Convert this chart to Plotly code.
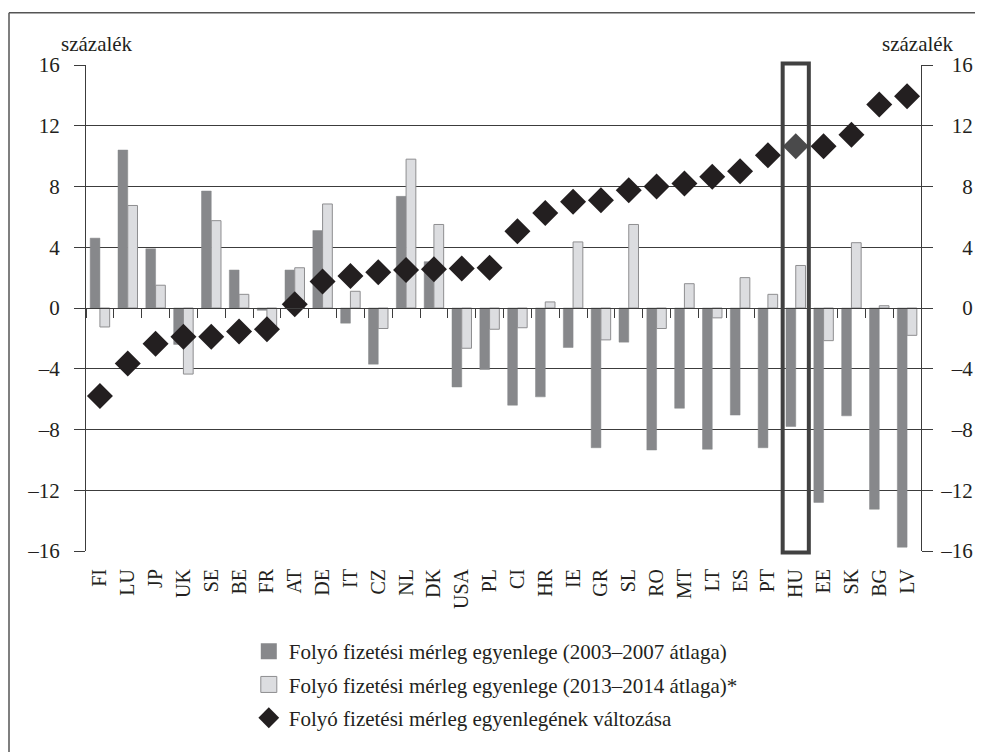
import plotly.graph_objects as go

countries = ["FI", "LU", "JP", "UK", "SE", "BE", "FR", "AT", "DE", "IT", "CZ", "NL", "DK", "USA", "PL",
             "CI", "HR", "IE", "GR", "SL", "RO", "MT", "LT", "ES", "PT", "HU", "EE", "SK", "BG", "LV"]
ca_2003_2007 = [4.6, 10.4, 3.9, -2.4, 7.7, 2.5, -0.15, 2.5, 5.1, -1.0, -3.7, 7.35, 3.05, -5.2, -4.05,
                -6.4, -5.85, -2.6, -9.2, -2.25, -9.35, -6.6, -9.3, -7.05, -9.2, -7.8, -12.8, -7.1, -13.25, -15.75]
ca_2013_2014 = [-1.25, 6.75, 1.5, -4.35, 5.75, 0.9, -1.55, 2.65, 6.85, 1.1, -1.35, 9.8, 5.5, -2.65, -1.4,
                -1.3, 0.4, 4.35, -2.1, 5.5, -1.35, 1.6, -0.65, 2.0, 0.9, 2.8, -2.15, 4.3, 0.15, -1.8]
ca_change = [-5.8, -3.65, -2.35, -1.9, -1.9, -1.55, -1.4, 0.25, 1.75, 2.1, 2.35, 2.5, 2.55, 2.6, 2.65,
             5.05, 6.25, 7.0, 7.1, 7.75, 8.0, 8.2, 8.65, 9.0, 10.05, 10.65, 10.65, 11.4, 13.4, 13.95]
highlight = "HU"
tick_vals = [16, 12, 8, 4, 0, -4, -8, -12, -16]

names = ["Folyó fizetési mérleg egyenlege (2003–2007 átlaga)",
         "Folyó fizetési mérleg egyenlege (2013–2014 átlaga)*",
         "Folyó fizetési mérleg egyenlegének változása"]

FONT = "Liberation Serif"
DARK = "#87888b"
LIGHT = "#dcdde0"
LIGHT_EDGE = "#8e8e90"
DIAM = "#231f20"
GRID = "#3c3c3c"

# the page adds an 8px body margin; the figure fills the rest of the window
W, H = 975, 744
L_PX, R_PX, T_PX, B_PX = 86, 921, 65, 551  # plot area in window pixels


def px_x(p):
    return (p - L_PX) / (R_PX - L_PX)


def px_y(p):
    return (B_PX - p) / (B_PX - T_PX)


def lab(v):
    return ("–" if v < 0 else "") + str(abs(v))


def lab_right(v):
    s = lab(v)
    return "\u00a0\u00a0" * (3 - len(s)) + s


fig = go.Figure()
fig.add_trace(go.Bar(x=countries, y=ca_2003_2007, name=names[0], showlegend=False,
                     marker=dict(color=DARK, line=dict(color=DARK, width=0.5))))
fig.add_trace(go.Bar(x=countries, y=ca_2013_2014, name=names[1], showlegend=False,
                     marker=dict(color=LIGHT, line=dict(color=LIGHT_EDGE, width=1))))
fig.add_trace(go.Scatter(x=countries, y=ca_change, name=names[2], mode="markers", yaxis="y2",
                         showlegend=False,
                         marker=dict(symbol="diamond", size=20,
                                     color=["#4a4a4b" if c == highlight else DIAM for c in countries],
                                     line=dict(width=0))))
# dummy trace for the zero-line axis with boundary ticks
fig.add_trace(go.Scatter(x=countries, y=[None] * len(countries), xaxis="x2", mode="markers",
                         showlegend=False, hoverinfo="skip"))
# legend entries
fig.add_trace(go.Scatter(x=[None], y=[None], mode="markers", name=names[0], legendgroup="a",
                         marker=dict(symbol="square", size=16, color=DARK)))
fig.add_trace(go.Scatter(x=[None], y=[None], mode="markers", name=names[1], legendgroup="b",
                         marker=dict(symbol="square", size=16, color=LIGHT,
                                     line=dict(color=LIGHT_EDGE, width=1))))
fig.add_trace(go.Scatter(x=[None], y=[None], mode="markers", name=names[2], legendgroup="c",
                         marker=dict(symbol="diamond", size=16, color=DIAM)))

n = len(countries)
hu = countries.index(highlight)
BORDER = dict(color="#555555", width=1.5)

fig.update_layout(
    width=W, height=H,
    margin=dict(l=L_PX - 8, r=W - (R_PX - 8), t=T_PX - 8, b=H - (B_PX - 8), autoexpand=False),
    paper_bgcolor="white", plot_bgcolor="white",
    font=dict(family=FONT, size=21, color="#231f20"),
    barmode="group", bargap=0.3, bargroupgap=0,
    xaxis=dict(type="category", categoryorder="array", categoryarray=countries,
               range=[-0.5, n - 0.5], showgrid=False, showline=False, ticks="",
               tickangle=-90, tickfont=dict(size=20), ticklabelstandoff=13, zeroline=False,
               automargin=False),
    xaxis2=dict(type="category", categoryorder="array", categoryarray=countries,
                overlaying="x", anchor="free", position=0.5, range=[-0.5, n - 0.5],
                showline=True, linecolor=GRID, linewidth=1.3, ticks="outside", tickson="boundaries",
                ticklen=9, tickwidth=1.3, tickcolor=GRID, showticklabels=False, showgrid=False,
                automargin=False),
    yaxis=dict(range=[-16, 16], tickvals=tick_vals, ticktext=[lab(v) for v in tick_vals],
               showgrid=True, gridcolor=GRID, gridwidth=1.3, zeroline=False,
               showline=True, linecolor=GRID, linewidth=1, ticks="outside", ticklen=11,
               tickcolor=GRID, tickwidth=1.3, tickfont=dict(size=21), ticklabelstandoff=10,
               automargin=False),
    yaxis2=dict(range=[-16, 16], overlaying="y", side="right", tickvals=tick_vals,
                ticktext=[lab_right(v) for v in tick_vals], showgrid=False, zeroline=False,
                showline=True, linecolor=GRID, linewidth=1, ticks="outside", ticklen=11,
                tickcolor=GRID, tickwidth=1.3, tickfont=dict(size=21), ticklabelstandoff=4,
                automargin=False),
    legend=dict(xref="container", yref="container", x=240.8 / W, y=1 - 623 / H,
                xanchor="left", yanchor="top",
                font=dict(size=21), tracegroupgap=3, itemsizing="trace", bgcolor="rgba(0,0,0,0)"),
    shapes=[
        dict(type="rect", xref="x", yref="paper", x0=hu - 0.47, x1=hu + 0.47,
             y0=px_y(552.5), y1=px_y(63.5),
             line=dict(color="#414141", width=4), layer="above"),
        # outer frame (only the left and top edges fall inside the picture)
        dict(type="line", xref="paper", yref="paper", x0=px_x(9), x1=px_x(9),
             y0=px_y(760), y1=px_y(12.7), line=BORDER),
        dict(type="line", xref="paper", yref="paper", x0=px_x(9), x1=px_x(990),
             y0=px_y(12.7), y1=px_y(12.7), line=BORDER),
    ],
    annotations=[
        dict(text="százalék", xref="paper", yref="paper", x=px_x(59), y=px_y(44),
             xanchor="left", yanchor="middle", showarrow=False, font=dict(size=21)),
        dict(text="százalék", xref="paper", yref="paper", x=px_x(956), y=px_y(44),
             xanchor="right", yanchor="middle", showarrow=False, font=dict(size=21)),
    ],
)

fig.write_html("out.html",
               post_script="document.documentElement.style.overflow='hidden';"
                           "document.body.style.overflow='hidden';")
